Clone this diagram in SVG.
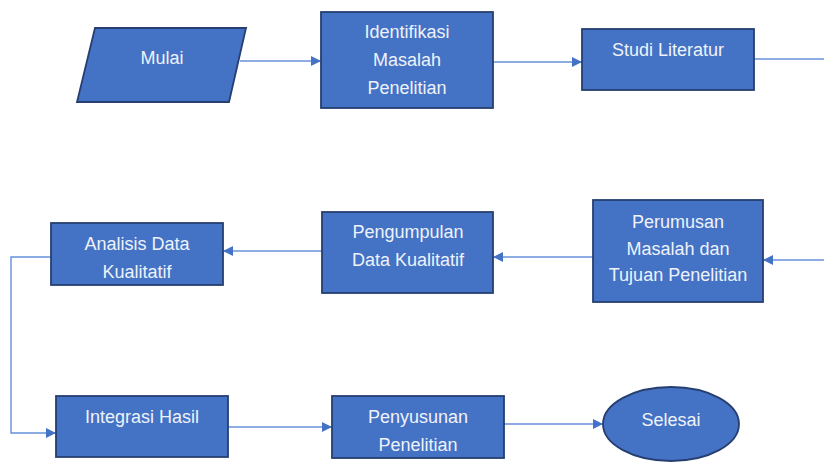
<svg xmlns="http://www.w3.org/2000/svg" width="824" height="462" viewBox="0 0 824 462">
<defs>
<style>
.n{fill:#4472C4;stroke:#263F70;stroke-width:1.8}
.t{font-family:"Liberation Sans",Arial,sans-serif;font-size:18px;fill:#EEF2FA;text-anchor:middle}
.c{fill:none;stroke:#6690DA;stroke-width:1.4}
</style>
<marker id="a" viewBox="0 0 10 10" refX="10" refY="5" markerWidth="11" markerHeight="10" markerUnits="userSpaceOnUse" orient="auto">
<path d="M0,0 L10,5 L0,10 Z" fill="#4472C4"/>
</marker>
</defs>
<rect width="824" height="462" fill="#FFFFFF"/>
<g id="connectors">
<path class="c" d="M240,61 H321" marker-end="url(#a)"/>
<path class="c" d="M493,62 H582" marker-end="url(#a)"/>
<path class="c" d="M754,59 H824"/>
<path class="c" d="M824,260 H763" marker-end="url(#a)"/>
<path class="c" d="M593,257 H493" marker-end="url(#a)"/>
<path class="c" d="M322,251 H223" marker-end="url(#a)"/>
<path class="c" d="M51,257 H11 V433 H56" marker-end="url(#a)"/>
<path class="c" d="M228,427 H332" marker-end="url(#a)"/>
<path class="c" d="M504,424 H603" marker-end="url(#a)"/>
</g>
<g id="mulai">
<polygon class="n" points="95,28 246,28 229,102 77,102"/>
<text class="t" x="162" y="64">Mulai</text>
</g>
<g id="identifikasi">
<rect class="n" x="321" y="12" width="172" height="96"/>
<text class="t" x="407" y="38">Identifikasi</text>
<text class="t" x="407" y="66">Masalah</text>
<text class="t" x="407" y="94">Penelitian</text>
</g>
<g id="studi">
<rect class="n" x="582" y="29" width="172" height="61"/>
<text class="t" x="668" y="56">Studi Literatur</text>
</g>
<g id="perumusan">
<rect class="n" x="593" y="200" width="170" height="102"/>
<text class="t" x="678" y="228">Perumusan</text>
<text class="t" x="678" y="255">Masalah dan</text>
<text class="t" x="678" y="281">Tujuan Penelitian</text>
</g>
<g id="pengumpulan">
<rect class="n" x="322" y="212" width="171" height="81"/>
<text class="t" x="408" y="238">Pengumpulan</text>
<text class="t" x="408" y="266">Data Kualitatif</text>
</g>
<g id="analisis">
<rect class="n" x="51" y="223" width="172" height="62"/>
<text class="t" x="137" y="250">Analisis Data</text>
<text class="t" x="137" y="278">Kualitatif</text>
</g>
<g id="integrasi">
<rect class="n" x="56" y="396" width="172" height="61"/>
<text class="t" x="142" y="423">Integrasi Hasil</text>
</g>
<g id="penyusunan">
<rect class="n" x="332" y="396" width="172" height="62"/>
<text class="t" x="418" y="423">Penyusunan</text>
<text class="t" x="418" y="451">Penelitian</text>
</g>
<g id="selesai">
<ellipse class="n" cx="671" cy="424" rx="68" ry="37"/>
<text class="t" x="671" y="426">Selesai</text>
</g>
</svg>
